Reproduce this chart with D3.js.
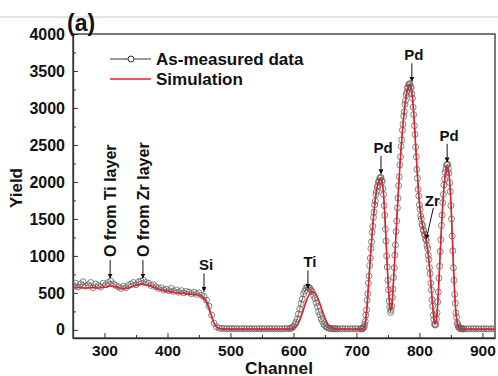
<!DOCTYPE html>
<html>
<head>
<meta charset="utf-8">
<script src="https://cdn.jsdelivr.net/npm/d3@7/dist/d3.min.js"></script>
<style>
  html, body { margin: 0; padding: 0; background: #fff; }
  svg { display: block; }
  text { font-family: "Liberation Sans", Arial, sans-serif; font-weight: bold; fill: #111; }
</style>
</head>
<body>
<svg id="chart" width="498" height="376"></svg>
<script>
// RBS spectrum: measured yield (open circles) and simulated fit (red line)
const measured = [
  // substrate plateau with O signals, Si edge
  [250,600],[254,630],[258,580],[262,620],[266,650],[270,590],[274,610],[278,640],[282,570],[286,620],
  [290,600],[294,580],[298,630],[302,610],[306,640],[310,660],[314,620],[318,600],[322,580],[326,560],
  [330,590],[334,570],[338,600],[342,620],[346,640],[350,610],[354,650],[358,660],[362,670],[366,640],
  [370,630],[374,600],[378,610],[382,580],[386,560],[390,570],[394,540],[398,550],[402,530],[406,560],
  [410,520],[414,540],[418,510],[422,530],[426,500],[430,520],[434,510],[438,490],[442,510],[446,480],
  [450,500],[454,470],[458,450],[462,400],[466,320],[470,200],[474,90],[478,40],[482,25],[486,18],
  [490,20],[494,15],[498,15],[502,18],[506,14],[510,16],[514,13],[518,17],[522,15],[526,14],
  [530,16],[534,15],[538,13],[542,17],[546,14],[550,16],[554,15],[558,14],[562,17],[566,15],
  [570,13],[574,16],[578,14],[582,15],[586,16],[590,17],
  // Ti peak
  [594,18],[596,22],[598,30],[600,48],[602,70],[604,105],[606,150],[608,215],[610,280],[612,355],
  [614,415],[616,485],[618,525],[620,565],[622,580],[624,570],[626,565],[628,535],[630,515],[632,465],
  [634,425],[636,365],[638,315],[640,245],[642,205],[644,150],[646,115],[648,78],[650,58],[652,40],
  [654,32],[656,24],[658,21],[660,18],[662,17],[664,15],[666,14],[668,16],[670,14],
  [674,15],[678,14],[682,16],[686,13],[690,15],[694,14],[698,16],[702,14],[706,15],
  // Pd / Zr region
  [708,12],[709,18],[710,15],[711,28],[712,38],[713,75],[714,115],[715,200],[716,270],[717,400],
  [718,490],[719,630],[720,730],[721,870],[722,970],[723,1100],[724,1190],[725,1320],[726,1400],[727,1520],
  [728,1590],[729,1690],[730,1740],[731,1830],[732,1870],[733,1930],[734,1950],[735,2000],[736,2010],[737,2050],
  [738,2060],[739,2060],[740,2020],[741,2000],[742,1910],[743,1830],[744,1680],[745,1550],[746,1360],[747,1200],
  [748,1000],[749,850],[750,670],[751,540],[752,390],[753,310],[754,235],[755,265],[756,320],[757,440],
  [758,550],[759,710],[760,840],[761,1010],[762,1150],[763,1330],[764,1470],[765,1650],[766,1780],[767,1950],
  [768,2070],[769,2230],[770,2340],[771,2480],[772,2570],[773,2700],[774,2780],[775,2890],[776,2950],[777,3050],
  [778,3100],[779,3180],[780,3210],[781,3270],[782,3280],[783,3320],[784,3310],[785,3330],[786,3290],[787,3270],
  [788,3190],[789,3130],[790,3010],[791,2910],[792,2760],[793,2640],[794,2470],[795,2340],[796,2170],[797,2050],
  [798,1900],[799,1810],[800,1690],[801,1630],[802,1540],[803,1500],[804,1430],[805,1410],[806,1350],[807,1340],
  [808,1290],[809,1280],[810,1230],[811,1210],[812,1140],[813,1100],[814,1010],[815,950],[816,840],[817,760],
  [818,630],[819,540],[820,410],[821,320],[822,200],[823,140],[824,75],[825,65],[826,75],[827,150],
  [828,230],[829,380],[830,510],[831,700],[832,860],[833,1060],[834,1220],[835,1410],[836,1550],[837,1720],
  [838,1830],[839,1960],[840,2040],[841,2130],[842,2170],[843,2230],[844,2230],[845,2240],[846,2180],[847,2120],
  [848,1990],[849,1870],[850,1680],[851,1500],[852,1270],[853,1070],[854,840],[855,670],[856,480],[857,360],
  [858,230],[859,170],[860,95],[861,70],[862,40],[863,35],[864,22],[865,22],[866,16],[867,17],
  [868,13],[869,15],[870,12],
  [874,14],[878,12],[882,15],[886,13],[890,16],[894,12],[898,14],[902,13],[906,15],[910,12],[914,14],[918,13]
];

const simulation = [
  [250,565],[260,570],[270,565],[280,570],[290,565],[300,575],[310,595],[320,575],[330,555],[340,570],
  [350,600],[360,615],[370,600],[380,570],[390,540],[400,520],[410,505],[420,495],[430,490],[440,480],
  [445,475],[450,465],[455,445],[460,400],[465,310],[470,180],[475,70],[480,25],[485,12],[490,8],
  [500,6],[520,6],[540,6],[560,6],[580,6],[590,6],
  [595,10],[600,22],[605,55],[610,130],[615,250],[620,380],[625,480],[630,520],[635,490],[640,400],
  [645,280],[650,160],[655,75],[660,30],[665,12],[670,8],[680,6],[690,6],[700,6],[705,6],
  [708,8],[710,12],[712,25],[714,80],[716,220],[718,440],[720,700],[722,960],[724,1200],[726,1420],
  [728,1610],[730,1770],[732,1890],[734,1970],[736,2020],[738,2040],[740,2020],[742,1930],[744,1720],[746,1400],
  [748,1030],[750,690],[752,420],[754,270],[756,300],[758,520],[760,830],[762,1160],[764,1480],[766,1790],
  [768,2080],[770,2340],[772,2570],[774,2780],[776,2960],[778,3100],[780,3210],[782,3280],[784,3310],[786,3300],
  [788,3220],[790,3040],[792,2790],[794,2500],[796,2210],[798,1950],[800,1730],[802,1570],[804,1450],[806,1370],
  [808,1300],[810,1230],[812,1140],[814,1020],[816,860],[818,660],[820,440],[822,240],[824,110],[826,90],
  [828,210],[830,480],[832,840],[834,1210],[836,1540],[838,1810],[840,2010],[842,2140],[844,2190],[846,2160],
  [848,2020],[850,1730],[852,1320],[854,880],[856,500],[858,230],[860,95],[862,40],[864,20],[866,12],
  [868,9],[870,8],[880,6],[890,6],[900,6],[910,6],[920,6]
];

const xTicks = [300, 400, 500, 600, 700, 800, 900];
const yTicks = [0, 500, 1000, 1500, 2000, 2500, 3000, 3500, 4000];

// element labels with arrows: [text, channel of arrow tip, yield of arrow tip]
const peakLabels = [
  ["Si", 458, 520],
  ["Ti", 623, 560],
  ["Pd", 739, 2110],
  ["Pd", 788, 3360],
  ["Pd", 844, 2270]
];
const oxygenLabels = [
  ["O from Ti layer", 309, 700],
  ["O from Zr layer", 361, 700]
];

const svg = d3.select("#chart");
const mLeft = 73, mRight = 495, mTop = 34, mBottom = 338;

const x = d3.scaleLinear().domain([250, 920]).range([mLeft, mRight]);
const y = d3.scaleLinear().domain([-110, 4000]).range([mBottom, mTop]);

// faint rule across the top
svg.append("line").attr("x1", 0).attr("x2", 498).attr("y1", 17).attr("y2", 17)
  .attr("stroke", "#e4e4e4").attr("stroke-width", 2);

const defs = svg.append("defs");
defs.append("marker").attr("id", "arrow").attr("viewBox", "0 0 10 10")
  .attr("refX", 9).attr("refY", 5).attr("markerWidth", 5).attr("markerHeight", 5)
  .attr("markerUnits", "userSpaceOnUse")
  .attr("orient", "auto")
  .append("path").attr("d", "M0,0 L10,5 L0,10 z").attr("fill", "#111");
defs.append("clipPath").attr("id", "plot-clip")
  .append("rect").attr("x", mLeft).attr("y", mTop).attr("width", mRight - mLeft).attr("height", mBottom - mTop);

// axes with inward ticks
const xAxis = svg.append("g").attr("transform", `translate(0,${mBottom})`)
  .call(d3.axisBottom(x).tickValues(xTicks).tickSizeInner(-5).tickSizeOuter(0).tickPadding(7));
svg.append("g").attr("transform", `translate(0,${mBottom})`)
  .call(d3.axisBottom(x).tickValues(d3.range(350, 920, 100)).tickSizeInner(-3).tickSizeOuter(0).tickFormat(""))
  .call(g => g.select(".domain").remove());
const yAxis = svg.append("g").attr("transform", `translate(${mLeft},0)`)
  .call(d3.axisLeft(y).tickValues(yTicks).tickFormat(d3.format("d")).tickSizeInner(-5).tickSizeOuter(0).tickPadding(8));
svg.append("g").attr("transform", `translate(${mLeft},0)`)
  .call(d3.axisLeft(y).tickValues(d3.range(250, 4000, 500)).tickSizeInner(-3).tickSizeOuter(0).tickFormat(""))
  .call(g => g.select(".domain").remove());

svg.selectAll(".tick line").attr("stroke", "#333").attr("stroke-width", 1);
svg.selectAll(".domain").attr("stroke", "#333").attr("stroke-width", 1.3);
[xAxis, yAxis].forEach(a => a.selectAll("text")
  .attr("font-family", "Liberation Sans, Arial, sans-serif")
  .attr("font-weight", "bold").attr("fill", "#111"));
xAxis.selectAll("text").attr("font-size", 15.5);
yAxis.selectAll("text").attr("font-size", 16);

// frame
svg.append("rect").attr("x", mLeft).attr("y", mTop).attr("width", mRight - mLeft).attr("height", mBottom - mTop)
  .attr("fill", "none").attr("stroke", "#333").attr("stroke-width", 1.3);

const plot = svg.append("g").attr("clip-path", "url(#plot-clip)");

// measured data
plot.append("path").datum(measured)
  .attr("fill", "none").attr("stroke", "#444").attr("stroke-width", 0.8)
  .attr("d", d3.line().x(d => x(d[0])).y(d => y(d[1])));
plot.append("g").selectAll("circle").data(measured).join("circle")
  .attr("cx", d => x(d[0])).attr("cy", d => y(d[1])).attr("r", 3)
  .attr("fill", "none").attr("stroke", "#666").attr("stroke-width", 0.8);

// simulated spectrum
plot.append("path").datum(simulation)
  .attr("fill", "none").attr("stroke", "#e3202c").attr("stroke-width", 1.6)
  .attr("d", d3.line().curve(d3.curveMonotoneX).x(d => x(d[0])).y(d => y(d[1])));

// legend
const lg = svg.append("g");
lg.append("line").attr("x1", 110).attr("x2", 151).attr("y1", 59).attr("y2", 59).attr("stroke", "#333").attr("stroke-width", 1.2);
lg.append("circle").attr("cx", 131).attr("cy", 59).attr("r", 3).attr("fill", "#fff").attr("stroke", "#333").attr("stroke-width", 1);
lg.append("text").attr("x", 156).attr("y", 65).attr("font-size", 17).text("As-measured data");
lg.append("line").attr("x1", 110).attr("x2", 151).attr("y1", 79).attr("y2", 79).attr("stroke", "#e3202c").attr("stroke-width", 1.4);
lg.append("text").attr("x", 156).attr("y", 85).attr("font-size", 17).text("Simulation");

// peak labels with arrows
const ann = svg.append("g");
peakLabels.forEach(([t, c, v]) => {
  const px = x(c), py = y(v);
  ann.append("line").attr("x1", px).attr("x2", px).attr("y1", py - 18).attr("y2", py)
    .attr("stroke", "#111").attr("stroke-width", 1).attr("marker-end", "url(#arrow)");
  ann.append("text").attr("x", px + 2).attr("y", py - 21).attr("text-anchor", "middle").attr("font-size", 15).text(t);
});

// Zr shoulder label with slanted arrow
const zrTip = [811, 1230];
ann.append("line").attr("x1", x(zrTip[0]) + 7).attr("y1", y(zrTip[1]) - 31)
  .attr("x2", x(zrTip[0])).attr("y2", y(zrTip[1]))
  .attr("stroke", "#111").attr("stroke-width", 1).attr("marker-end", "url(#arrow)");
ann.append("text").attr("x", x(zrTip[0]) + 6).attr("y", y(zrTip[1]) - 33).attr("text-anchor", "middle").attr("font-size", 15).text("Zr");

// oxygen labels, vertical text
oxygenLabels.forEach(([t, c, v]) => {
  const px = x(c), py = y(v);
  ann.append("line").attr("x1", px).attr("x2", px).attr("y1", py - 18).attr("y2", py)
    .attr("stroke", "#111").attr("stroke-width", 1).attr("marker-end", "url(#arrow)");
  ann.append("text").attr("transform", `translate(${px + 6},${py - 21}) rotate(-90)`)
    .attr("font-size", 16).text(t);
});

// axis titles and panel tag
svg.append("text").attr("x", 279).attr("y", 374).attr("text-anchor", "middle").attr("font-size", 16)
  .attr("textLength", 68).attr("lengthAdjust", "spacingAndGlyphs").text("Channel");
svg.append("text").attr("transform", "translate(22,188) rotate(-90)").attr("text-anchor", "middle").attr("font-size", 17).text("Yield");
svg.append("text").attr("x", 67).attr("y", 31).attr("font-size", 23).text("(a)");
</script>
</body>
</html>
